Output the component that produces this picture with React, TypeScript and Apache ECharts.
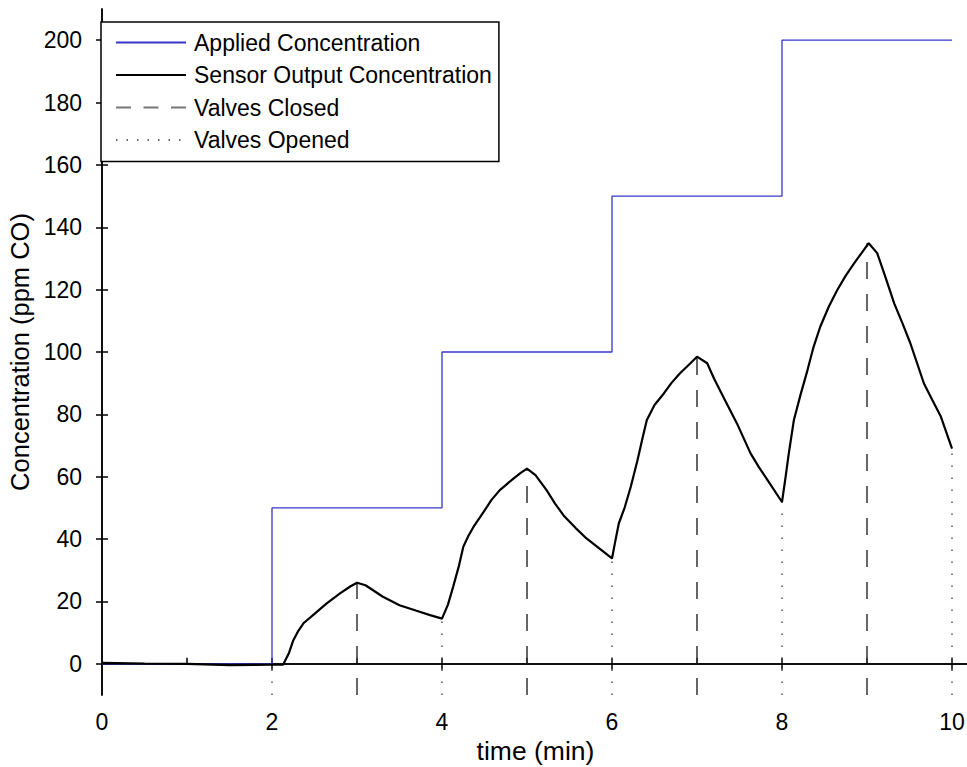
import React, { useEffect, useRef } from "react";
import * as echarts from "echarts";

// ---- axis ranges and tick values ----
const xMin = 0;
const xMax = 10.2;
const yMin = -10;
const yMax = 210;
const yTickValues = [0, 20, 40, 60, 80, 100, 120, 140, 160, 180, 200];
const xLabelValues = [0, 2, 4, 6, 8, 10];
const xBottomTickValues = [1, 2, 3, 4, 5, 6, 7, 8, 9, 10];
const xTopTickValues = [2, 4, 6, 8, 10];

// ---- applied concentration (step) ----
const appliedTimes = [0, 2, 4, 6, 8, 10];
const appliedValues = [0, 50, 100, 150, 200, 200];

// ---- sensor output concentration ----
const sensorTimes = [
  0, 0.5, 1.0, 1.5, 2.0, 2.13, 2.2, 2.25, 2.31, 2.37, 2.5, 2.64, 2.8, 2.92, 3.0, 3.1, 3.3, 3.5, 3.7, 3.85, 4.0,
  4.07, 4.13, 4.2, 4.25, 4.31, 4.37, 4.49, 4.58, 4.68, 4.84, 4.93, 5.0, 5.1, 5.23, 5.33, 5.43, 5.57, 5.7, 5.85, 6.0,
  6.04, 6.08, 6.15, 6.22, 6.3, 6.36, 6.41, 6.5, 6.61, 6.7, 6.8, 6.92, 7.0, 7.12, 7.2, 7.31, 7.47, 7.63, 7.73, 7.83, 8.0,
  8.04, 8.08, 8.14, 8.22, 8.3, 8.37, 8.45, 8.55, 8.65, 8.75, 8.85, 8.94, 9.02, 9.12, 9.22, 9.32, 9.42, 9.51, 9.67, 9.77, 9.87, 10.0,
];
const sensorValues = [
  0.3, 0.1, 0, -0.4, -0.3, -0.3, 3.5, 7.5, 10.6, 13.0, 16.0, 19.3, 22.6, 24.8, 26.0, 25.2, 21.6, 18.8, 17.0, 15.7, 14.5,
  19.0, 24.6, 31.5, 37.5, 41.0, 43.9, 48.7, 52.5, 55.7, 59.4, 61.3, 62.6, 60.5, 55.7, 51.4, 47.6, 43.6, 40.2, 37.0, 33.8,
  39.5, 45.0, 50.2, 56.7, 65.3, 72.5, 78.2, 83.0, 86.7, 90.1, 93.2, 96.3, 98.5, 96.4, 91.5, 85.6, 77.1, 67.5, 63.0, 58.9, 51.9,
  59.5, 67.5, 78.2, 86.5, 94.2, 101.5, 108.1, 114.5, 119.9, 124.5, 128.5, 131.9, 134.9, 131.7, 123.8, 115.6, 109.0, 102.8, 89.9, 84.5, 79.2, 69.0,
];

// ---- valve events ----
const closedTimes = [3, 5, 7, 9];
const closedValues = [26.0, 62.6, 98.5, 134.9];
const openedTimes = [2, 4, 6, 8, 10];
const openedValues = [0, 14.5, 33.8, 51.9, 69.0];

const FONT = "'Liberation Sans', Arial, Helvetica, sans-serif";
const BLUE = "#3636c8";

export default function App() {
  const ref = useRef<HTMLDivElement>(null);

  useEffect(() => {
    if (!ref.current) return;
    const chart = echarts.init(ref.current, undefined, { renderer: "svg" });

    const axisLine = { show: true, lineStyle: { color: "#000", width: 1.5 } };
    const tickStyle = { color: "#000", width: 1.5 };
    const labelStyle = { fontSize: 23, fontFamily: FONT, color: "#000" };

    const option: any = {
      animation: false,
      backgroundColor: "#fff",
      grid: { left: 102, right: -2, top: 9, bottom: 72, containLabel: false, outerBoundsMode: "none" },
      xAxis: [
        {
          type: "value",
          min: xMin,
          max: xMax,
          position: "bottom",
          axisLine,
          splitLine: { show: false },
          axisTick: { show: true, inside: true, length: 6, customValues: xBottomTickValues, lineStyle: tickStyle },
          axisLabel: { ...labelStyle, customValues: xLabelValues, margin: 15 },
          name: "time (min)",
          nameLocation: "middle",
          nameGap: 42,
          nameTextStyle: { ...labelStyle, fontSize: 26.5 },
        },
        {
          type: "value",
          min: xMin,
          max: xMax,
          position: "top",
          axisLine,
          splitLine: { show: false },
          axisTick: { show: true, inside: true, length: 6, customValues: xTopTickValues, lineStyle: tickStyle },
          axisLabel: { show: false },
        },
      ],
      yAxis: [
        {
          type: "value",
          min: yMin,
          max: yMax,
          position: "left",
          axisLine,
          splitLine: { show: false },
          axisTick: { show: true, inside: true, length: 6, customValues: yTickValues, lineStyle: tickStyle },
          axisLabel: { ...labelStyle, customValues: yTickValues, margin: 20 },
          name: "Concentration (ppm CO)",
          nameLocation: "middle",
          nameRotate: 90,
          nameGap: 67,
          nameTextStyle: { ...labelStyle, fontSize: 25.5 },
        },
        {
          type: "value",
          min: yMin,
          max: yMax,
          position: "right",
          axisLine,
          splitLine: { show: false },
          axisTick: { show: true, inside: true, length: 6, customValues: yTickValues, lineStyle: tickStyle },
          axisLabel: { show: false },
        },
      ],
      legend: {
        left: 101,
        top: 22,
        orient: "vertical",
        padding: [9, 7, 10, 14],
        itemGap: 9.5,
        itemWidth: 70,
        itemHeight: 14,
        backgroundColor: "#fff",
        borderColor: "#000",
        borderWidth: 1.5,
        selectedMode: false,
        itemStyle: { opacity: 0 },
        textStyle: { ...labelStyle, lineHeight: 23, padding: [0, 0, 0, 3] },
        data: [
          { name: "Applied Concentration" },
          { name: "Sensor Output Concentration" },
          { name: "Valves Closed", lineStyle: { type: [15, 12.5], color: "#777" } },
          { name: "Valves Opened", lineStyle: { type: [1.5, 9], color: "#666" } },
        ],
      },
      series: [
        ...closedTimes.map((t, i) => ({
          name: "Valves Closed",
          type: "line",
          data: [
            [t, yMin],
            [t, closedValues[i]],
          ],
          symbol: "none",
          silent: true,
          lineStyle: { color: "#333", width: 1.5, type: [17, 15] },
          itemStyle: { color: "#333" },
          z: 2,
        })),
        ...openedTimes.map((t, i) => ({
          name: "Valves Opened",
          type: "line",
          data: [
            [t, yMin],
            [t, openedValues[i]],
          ],
          symbol: "none",
          silent: true,
          lineStyle: { color: "#555", width: 1.5, type: [1.5, 10.5] },
          itemStyle: { color: "#555" },
          z: 2,
        })),
        {
          name: "Applied Concentration",
          type: "line",
          step: "end",
          data: appliedTimes.map((t, i) => [t, appliedValues[i]]),
          symbol: "none",
          silent: true,
          lineStyle: { color: BLUE, width: 1.3 },
          itemStyle: { color: BLUE },
          z: 3,
        },
        {
          name: "Sensor Output Concentration",
          type: "line",
          data: sensorTimes.map((t, i) => [t, sensorValues[i]]),
          symbol: "none",
          silent: true,
          lineStyle: { color: "#000", width: 2.2 },
          itemStyle: { color: "#000" },
          z: 4,
        },
      ],
    };

    chart.setOption(option);
    return () => chart.dispose();
  }, []);

  return (
    <div
      ref={ref}
      style={{ position: "absolute", left: 0, top: 0, width: 967, height: 767, background: "#fff" }}
    />
  );
}
